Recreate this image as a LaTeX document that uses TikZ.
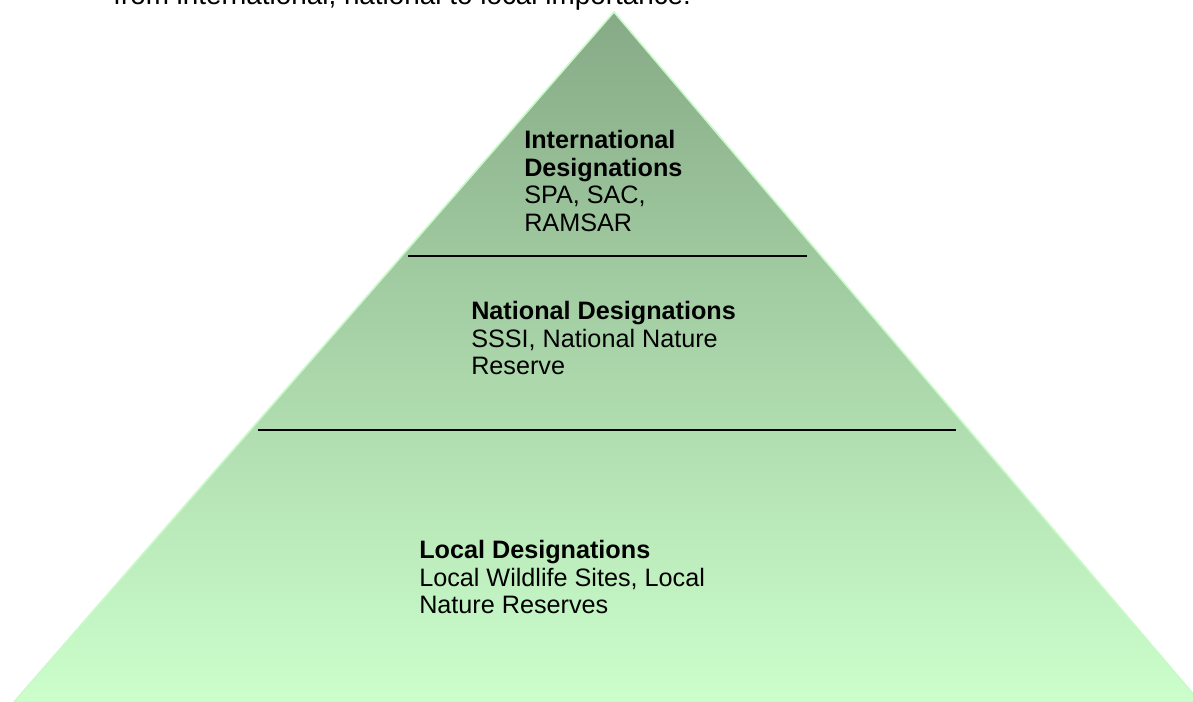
\documentclass[tikz,border=0pt]{standalone}
\usepackage{fontspec}
\setmainfont{Liberation Sans}
\usepackage{xcolor}
\definecolor{apexgreen}{RGB}{134,170,134}
\definecolor{basegreen}{RGB}{204,255,204}
\definecolor{rimgreen}{RGB}{200,250,200}
\newcommand{\bodysize}{\fontsize{20.9}{24}\selectfont}
\newcommand{\tiersize}{\fontsize{18.9}{20.6}\selectfont}

\begin{document}
\begin{tikzpicture}[x=0.75pt,y=0.75pt,yscale=-1,xscale=1]
\useasboundingbox (0,0) rectangle (1193,701);

%Shape: Triangle [id:pyramid]
\coordinate (apex) at (614,12);
\coordinate (baseL) at (14,702);
\coordinate (baseR) at (1200,702);
\draw [color=rimgreen, line width=1.2, top color=apexgreen, bottom color=basegreen] (apex) -- (baseL) -- (baseR) -- cycle;

%Straight Lines [id:upperrule]
\draw [line width=1.5]   (408,255.5) -- (807,255.5) ;
%Straight Lines [id:lowerrule]
\draw [line width=1.5]   (258,429.5) -- (956,429.5) ;

% Text Node
\draw (113,4) node [anchor=base west][inner sep=0pt]  [font=\bodysize] (intro) {from international, national to local importance.};
% Text Node
\draw (524,231) node [anchor=base west][inner sep=0pt][align=left]  [font=\tiersize] (intl) {\textbf{International}\\\textbf{Designations}\\SPA, SAC,\\RAMSAR};
% Text Node
\draw (471,374.5) node [anchor=base west][inner sep=0pt][align=left]  [font=\tiersize] (natl) {\textbf{National Designations}\\SSSI, National Nature\\Reserve};
% Text Node
\draw (419,613.5) node [anchor=base west][inner sep=0pt][align=left]  [font=\tiersize] (locl) {\textbf{Local Designations}\\Local Wildlife Sites, Local\\Nature Reserves};

\end{tikzpicture}
\end{document}
